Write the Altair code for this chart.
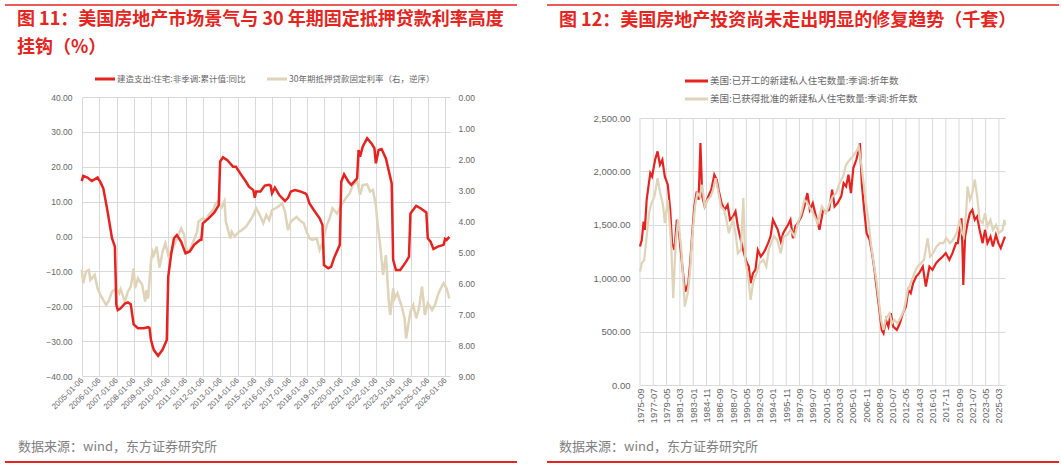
import altair as alt
import pandas as pd

# ---------------- Figure 11 data ----------------
spend_dates = ["2005-01","2005-02","2005-05","2005-08","2005-12","2006-02","2006-04","2006-07","2006-10","2006-12",
               "2007-01","2007-02","2007-04","2007-07","2007-09","2007-11","2008-01","2008-04","2008-08","2008-11",
               "2008-12","2009-01","2009-03","2009-06","2009-09","2009-12","2010-01","2010-03","2010-05","2010-07",
               "2010-10","2011-01","2011-04","2011-07","2011-11","2011-12","2012-01","2012-05","2012-09","2012-12",
               "2013-01","2013-03","2013-06","2013-10","2013-12","2014-03","2014-07","2014-09","2014-12","2015-01",
               "2015-02","2015-05","2015-08","2015-11","2015-12","2016-01","2016-03","2016-06","2016-10","2016-12",
               "2017-02","2017-05","2017-08","2017-12","2018-01","2018-03","2018-06","2018-10","2018-12","2019-01",
               "2019-04","2019-06","2019-08","2019-12","2020-01","2020-03","2020-06","2020-08","2020-12","2021-01",
               "2021-02","2021-04","2021-07","2021-10","2021-12","2022-01","2022-03","2022-05","2022-08","2022-12",
               "2023-01","2023-03","2023-06","2023-10","2023-12","2024-01","2024-05","2024-08","2024-12","2025-01",
               "2025-03","2025-05","2025-08","2025-12","2026-01","2026-02","2026-04"]
spend_yoy = [15.9, 17.4, 16.9, 15.9, 16.9, 15.5, 13.8, 7.1, -0.5, -2.9,
             -19.6, -21.1, -20.6, -19.2, -18.9, -19.4, -25.2, -26.3, -26.3, -26.0,
             -26.2, -29.7, -32.5, -34.2, -32.5, -29.7, -11.5, -5.3, -0.5, 0.4,
             -1.5, -4.8, -4.3, -2.4, -1.0, -0.9, 3.8, 5.2, 6.9, 9.0,
             21.5, 22.7, 21.9, 20.0, 20.0, 18.1, 15.7, 14.3, 13.3, 11.1,
             12.9, 12.9, 14.6, 14.8, 14.6, 12.4, 14.0, 11.9, 10.2, 11.0,
             12.9, 13.3, 13.0, 12.4, 12.0, 9.5, 7.6, 5.2, 3.3, -8.2,
             -9.1, -8.7, -6.2, -2.4, 15.7, 17.8, 15.7, 14.8, 16.7, 24.8,
             22.9, 25.8, 28.2, 26.7, 25.3, 21.0, 24.8, 25.1, 22.4, 15.2,
             -6.7, -9.6, -9.6, -7.2, -5.8, 6.6, 8.8, 8.1, 6.9, -0.5,
             -1.5, -3.6, -2.9, -2.4, -0.7, -1.0, -0.1]

rate_dates = ["2005-01","2005-02","2005-04","2005-06","2005-07","2005-10","2005-12","2006-02","2006-06","2006-08",
              "2006-10","2007-01","2007-03","2007-04","2007-07","2007-09","2007-11","2008-01","2008-02","2008-04",
              "2008-07","2008-09","2008-10","2008-11","2009-01","2009-02","2009-03","2009-05","2009-07","2009-09",
              "2009-11","2010-01","2010-03","2010-05","2010-08","2010-10","2010-12","2011-02","2011-03","2011-05",
              "2011-09","2011-10","2012-01","2012-03","2012-05","2012-08","2012-10","2012-12","2013-02","2013-04",
              "2013-05","2013-08","2013-09","2013-11","2014-02","2014-04","2014-07","2014-10","2014-12","2015-02",
              "2015-04","2015-07","2015-09","2015-11","2016-01","2016-05","2016-08","2016-10","2016-12","2017-02",
              "2017-06","2017-08","2017-11","2018-01","2018-03","2018-05","2018-08","2018-10","2018-12","2019-03",
              "2019-05","2019-07","2019-10","2020-01","2020-04","2020-07","2020-09","2020-12","2021-02","2021-04",
              "2021-07","2021-09","2021-11","2022-01","2022-02","2022-04","2022-06","2022-08","2022-10","2022-11",
              "2023-01","2023-02","2023-04","2023-07","2023-09","2023-10","2024-01","2024-03","2024-05","2024-07",
              "2024-09","2024-11","2025-01","2025-04","2025-06","2025-08","2025-10","2025-12","2026-02","2026-04"]
rate_vals = [5.58, 6.01, 5.63, 5.58, 5.90, 5.74, 6.17, 6.39, 6.71, 6.55,
             6.28, 6.17, 6.33, 6.20, 6.60, 6.28, 6.12, 5.53, 6.17, 5.85,
             6.06, 6.60, 6.23, 6.50, 5.31, 4.99, 5.10, 4.83, 5.50, 5.00,
             4.72, 5.10, 4.99, 4.80, 4.45, 4.24, 4.45, 4.99, 5.00, 4.83,
             4.35, 4.02, 3.91, 4.00, 3.81, 3.65, 3.43, 3.36, 3.55, 3.36,
             4.02, 4.56, 4.35, 4.50, 4.35, 4.30, 4.18, 3.97, 3.81, 3.59,
             3.76, 4.07, 3.81, 3.97, 3.65, 3.55, 3.43, 3.70, 4.29, 4.02,
             3.87, 3.97, 4.07, 4.35, 4.56, 4.61, 4.56, 4.93, 4.72, 4.13,
             3.91, 3.59, 3.76, 3.50, 3.27, 3.10, 2.84, 2.71, 3.15, 2.84,
             2.82, 3.05, 3.00, 3.50, 4.02, 4.77, 5.74, 5.10, 6.60, 7.03,
             6.17, 6.50, 6.33, 6.76, 7.14, 7.79, 6.92, 6.71, 7.14, 6.80,
             6.12, 7.03, 6.65, 6.87, 6.71, 6.39, 6.17, 6.01, 6.17, 6.50]

left_xticks = ["%d-01-06" % y for y in range(2005, 2027)]
left_yticks = [-40, -30, -20, -10, 0, 10, 20, 30, 40]
left_y2ticks = [0, 1, 2, 3, 4, 5, 6, 7, 8, 9]

# ---------------- Figure 12 data ----------------
starts_dates = ["1975-09","1975-12","1976-03","1976-05","1976-08","1976-11","1977-02","1977-05","1977-10","1978-02",
                "1978-06","1978-10","1979-02","1979-07","1979-11","1980-02","1980-06","1980-10","1981-01","1981-06",
                "1981-10","1981-12","1982-05","1982-08","1982-11","1983-03","1983-07","1983-10","1984-01","1984-04",
                "1984-08","1985-02","1985-07","1985-12","1986-04","1986-07","1986-12","1987-05","1987-10","1988-02",
                "1988-07","1988-11","1989-03","1989-09","1990-01","1990-05","1990-09","1990-12","1991-04","1991-08",
                "1991-12","1992-05","1992-09","1992-12","1993-05","1993-09","1994-01","1994-05","1994-09","1995-02",
                "1995-06","1995-09","1996-02","1996-06","1996-10","1997-02","1997-06","1997-12","1998-05","1998-10",
                "1999-02","1999-07","2000-01","2000-06","2000-12","2001-05","2001-10","2002-03","2002-07","2002-12",
                "2003-06","2003-10","2004-02","2004-06","2004-10","2005-02","2005-07","2005-11","2006-01","2006-04",
                "2006-08","2006-12","2007-05","2007-09","2008-01","2008-05","2008-09","2009-01","2009-04","2009-08",
                "2009-12","2010-04","2010-08","2011-02","2011-07","2011-12","2012-05","2012-09","2013-01","2013-05",
                "2013-10","2014-03","2014-09","2015-02","2015-08","2016-01","2016-07","2016-12","2017-06","2017-11",
                "2018-05","2018-10","2019-04","2019-07","2019-11","2020-01","2020-03","2020-04","2020-07","2020-11",
                "2021-03","2021-07","2021-11","2022-03","2022-07","2022-12","2023-04","2023-08","2024-01","2024-05",
                "2024-10","2025-02","2025-06","2025-10","2026-01"]
starts_vals = [1297, 1360, 1531, 1453, 1734, 1859, 1984, 1953, 2109, 2187,
               2062, 2109, 1953, 1875, 1640, 1328, 1265, 1547, 1453, 1172,
               953, 875, 953, 1140, 1390, 1672, 1812, 1734, 2265, 1766,
               1672, 1766, 1828, 1969, 1922, 1828, 1703, 1640, 1687, 1547,
               1578, 1625, 1484, 1328, 1234, 1156, 1109, 953, 1047, 1078,
               1265, 1203, 1234, 1265, 1328, 1390, 1547, 1500, 1453, 1344,
               1422, 1453, 1500, 1547, 1375, 1484, 1515, 1578, 1672, 1797,
               1640, 1703, 1562, 1453, 1640, 1625, 1640, 1828, 1672, 1703,
               1766, 1890, 1859, 1969, 1797, 2031, 2109, 2203, 2265, 1890,
               1640, 1422, 1359, 1234, 1078, 890, 703, 515, 484, 609,
               547, 672, 547, 515, 578, 672, 734, 890, 859, 953,
               1015, 1047, 1109, 922, 1109, 1078, 1140, 1172, 1203, 1234,
               1172, 1234, 1328, 1328, 1500, 1560, 1203, 937, 1390, 1515,
               1609, 1640, 1547, 1578, 1453, 1328, 1453, 1328, 1390, 1297,
               1406, 1328, 1281, 1344, 1390]

permits_dates = ["1975-09","1975-12","1976-04","1976-08","1976-12","1977-04","1977-09","1978-02","1978-06","1978-11",
                 "1979-02","1979-07","1979-11","1980-01","1980-04","1980-08","1980-12","1981-05","1981-09","1981-11",
                 "1982-04","1982-08","1982-11","1983-04","1983-08","1983-12","1984-04","1984-08","1985-01","1985-06",
                 "1985-10","1986-02","1986-06","1986-11","1987-04","1987-08","1987-12","1988-03","1988-07","1988-11",
                 "1989-03","1989-08","1989-12","1990-03","1990-08","1990-12","1991-04","1991-10","1992-03","1992-09",
                 "1993-02","1993-06","1993-10","1994-03","1994-08","1995-02","1995-07","1996-01","1996-06","1997-01",
                 "1997-06","1997-12","1998-05","1998-10","1999-04","1999-10","2000-03","2000-10","2001-05","2001-11",
                 "2002-04","2002-10","2003-03","2003-09","2004-02","2004-08","2005-01","2005-07","2005-11","2006-03",
                 "2006-07","2006-11","2007-03","2007-07","2007-11","2008-04","2008-08","2008-12","2009-04","2009-08",
                 "2010-02","2010-06","2010-10","2011-03","2011-09","2012-02","2012-08","2013-01","2013-07","2013-12",
                 "2014-06","2014-11","2015-05","2015-09","2016-02","2016-08","2017-01","2017-07","2017-12","2018-06",
                 "2018-11","2019-05","2019-10","2020-02","2020-05","2020-09","2020-11","2021-03","2021-07","2021-11",
                 "2022-03","2022-07","2022-12","2023-04","2023-08","2024-01","2024-05","2024-10","2025-03","2025-09",
                 "2025-12","2026-01"]
permits_vals = [1062, 1140, 1172, 1390, 1609, 1703, 1766, 1937, 1812, 1687,
                1515, 1734, 1453, 1265, 812, 1328, 1547, 1297, 953, 734,
                859, 1078, 1359, 1672, 1797, 1766, 1875, 1672, 1734, 1766,
                1828, 1937, 1828, 1672, 1640, 1547, 1422, 1484, 1547, 1422,
                1234, 1265, 1750, 1172, 1015, 797, 953, 1047, 1140, 1172,
                1109, 1265, 1328, 1390, 1359, 1234, 1390, 1406, 1453, 1390,
                1515, 1609, 1734, 1703, 1640, 1578, 1515, 1672, 1609, 1703,
                1766, 1797, 1890, 1953, 2062, 2109, 2140, 2187, 2234, 2078,
                1890, 1703, 1547, 1328, 1172, 984, 797, 609, 515, 625,
                672, 578, 609, 578, 640, 703, 890, 953, 1047, 1109,
                1140, 1172, 1375, 1203, 1234, 1297, 1328, 1328, 1375, 1328,
                1359, 1422, 1547, 1422, 1390, 1640, 1859, 1734, 1797, 1922,
                1766, 1547, 1515, 1609, 1484, 1547, 1453, 1500, 1422, 1453,
                1547, 1500]

right_xticks = ["1975-09","1977-07","1979-05","1981-03","1983-01","1984-11","1986-09","1988-07","1990-05","1992-03",
                "1994-01","1995-11","1997-09","1999-07","2001-05","2003-03","2005-01","2006-11","2008-09","2010-07",
                "2012-05","2014-03","2016-01","2017-11","2019-09","2021-07","2023-05","2025-03"]
right_yticks = [0, 500, 1000, 1500, 2000, 2500]

# ---------------- styling ----------------
RED = "#E8221F"
BEIGE = "#DFD3B8"
TRED = "#E62420"
GRID = "#D9D9D9"
GRAY = "#666666"
FOOT = "#808080"
CJK = "Noto Sans CJK SC"
NUM = "Liberation Sans"

one = pd.DataFrame({"k": [0]})


def dt(s):
    p = s.split("-")
    d = int(p[2]) if len(p) > 2 else 1
    return alt.DateTime(year=int(p[0]), month=int(p[1]), date=d, utc=True)


def txt(text, x, y, size, color, weight="normal"):
    return alt.Chart(one).mark_text(text=text, fontSize=size, color=color, font=CJK,
                                    fontWeight=weight, align="left", baseline="middle").encode(
        x=alt.value(x), y=alt.value(y))


def hline(x1, x2, y, color, width):
    return alt.Chart(one).mark_rule(color=color, strokeWidth=width).encode(
        x=alt.value(x1), x2=alt.value(x2), y=alt.value(y))


# ---------------- left panel (plot origin at page y=97) ----------------
W1, H1 = 368, 279
df_spend = pd.DataFrame({"date": spend_dates, "v": spend_yoy})
df_rate = pd.DataFrame({"date": rate_dates, "v": rate_vals})

x_left = alt.X("date:T", title=None,
               scale=alt.Scale(type="utc", domain=[dt("2005-01-06"), dt("2026-04-15")]),
               axis=alt.Axis(values=[dt(s) for s in left_xticks], format="%Y-%m-%d", labelAngle=315,
                             labelAlign="right", labelBaseline="middle", labelFontSize=8, labelFont=NUM,
                             labelColor=GRAY, grid=True, gridColor=GRID, domain=False, ticks=False,
                             labelPadding=3, labelOverlap=False, labelFlush=False))

beige_l = alt.Chart(df_rate).mark_line(color=BEIGE, strokeWidth=2.5).encode(
    x=x_left,
    y=alt.Y("v:Q", title=None, scale=alt.Scale(domain=[0, 9], reverse=True),
            axis=alt.Axis(orient="right", values=left_y2ticks, format=".2f", grid=False, domain=False,
                          ticks=False, labelPadding=8, labelFontSize=8.5, labelFont=NUM, labelColor=GRAY)))

red_l = alt.Chart(df_spend).mark_line(color=RED, strokeWidth=2.5).encode(
    x=x_left,
    y=alt.Y("v:Q", title=None, scale=alt.Scale(domain=[-40, 40]),
            axis=alt.Axis(values=left_yticks, format=".2f", grid=True, gridColor=GRID, domain=False,
                          ticks=False, labelPadding=10, labelFontSize=8.5, labelFont=NUM, labelColor=GRAY)))

left = alt.layer(
    beige_l, red_l,
    hline(-77, 435, -92, TRED, 1.5),
    txt("图 11：美国房地产市场景气与 30 年期固定抵押贷款利率高度", -65, -77, 18, TRED, "bold"),
    txt("挂钩（%）", -65, -49, 18, TRED, "bold"),
    hline(13, 33, -18, RED, 3),
    txt("建造支出:住宅:非季调:累计值:同比", 35, -18, 8.5, GRAY),
    hline(185, 205, -18, BEIGE, 3),
    txt("30年期抵押贷款固定利率（右，逆序）", 207, -18, 8.5, GRAY),
    txt("数据来源：wind，东方证券研究所", -64, 350, 13, FOOT),
    hline(-77, 435, 365, TRED, 2),
).resolve_scale(y="independent").properties(width=W1, height=H1)

# ---------------- right panel (group origin at page y=97, plot top at 118) ----------------
W2, H2 = 365, 288
TOP2 = 21
df_starts = pd.DataFrame({"date": starts_dates, "v": starts_vals})
df_permits = pd.DataFrame({"date": permits_dates, "v": permits_vals})
df_rticks = pd.DataFrame({"date": right_xticks})

x_right = alt.X("date:T", title=None,
                scale=alt.Scale(type="utc", domain=[dt("1975-09-01"), dt("2026-01-01")]),
                axis=alt.Axis(values=[dt(s) for s in right_xticks], format="%Y-%m", labelAngle=270,
                              labelAlign="right", labelBaseline="middle", labelFontSize=9.5, labelFont=NUM,
                              labelColor=GRAY, grid=False, domain=False, ticks=False,
                              labelPadding=3, labelOverlap=False, labelFlush=False))
y_right = alt.Y("v:Q", title=None, scale=alt.Scale(domain=[0, 2500], range=[H2, TOP2]),
                axis=alt.Axis(values=right_yticks, format=",.2f", grid=True, gridColor=GRID, domain=False,
                              ticks=False, labelPadding=10, labelFontSize=9.5, labelFont=NUM, labelColor=GRAY))

vgrid_r = alt.Chart(df_rticks).mark_rule(color=GRID, strokeWidth=1).encode(
    x=x_right, y=alt.value(TOP2), y2=alt.value(H2))
red_r = alt.Chart(df_starts).mark_line(color=RED, strokeWidth=2.2).encode(x=x_right, y=y_right)
beige_r = alt.Chart(df_permits).mark_line(color=BEIGE, strokeWidth=2.2).encode(x=x_right, y=y_right)

right = alt.layer(
    vgrid_r, red_r, beige_r,
    hline(-93, 419, -92, TRED, 1.5),
    txt("图 12：美国房地产投资尚未走出明显的修复趋势（千套）", -81, -76, 18, TRED, "bold"),
    hline(45, 68, -16, RED, 3),
    txt("美国:已开工的新建私人住宅数量:季调:折年数", 70, -16, 9.5, GRAY),
    hline(45, 68, 2, BEIGE, 3),
    txt("美国:已获得批准的新建私人住宅数量:季调:折年数", 70, 2, 9.5, GRAY),
    txt("数据来源：wind，东方证券研究所", -81, 350, 13, FOOT),
    hline(-93, 419, 365, TRED, 2),
).properties(width=W2, height=H2)

chart = alt.hconcat(left, right, spacing=28).properties(
    padding={"left": 4, "top": 4, "right": 0, "bottom": 0},
    background="white",
).configure_view(strokeWidth=0)

chart.save("out.html", embed_options={"renderer": "svg", "actions": False})
